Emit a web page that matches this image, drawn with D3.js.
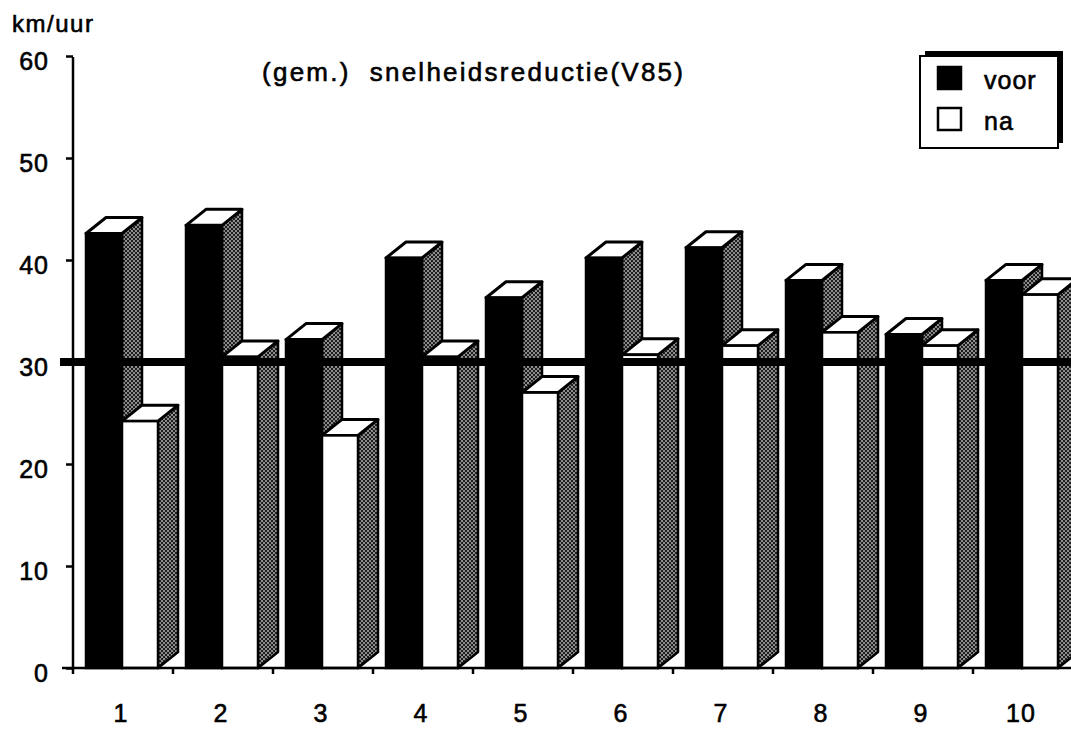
<!DOCTYPE html>
<html>
<head>
<meta charset="utf-8">
<script src="https://cdn.jsdelivr.net/npm/d3@7"></script>
<style>
  body { margin: 0; background: #fff; }
  svg text { font-family: "Liberation Sans", Arial, sans-serif; fill: #000; stroke: #000; stroke-width: 0.6px; }
</style>
</head>
<body>
<div id="chart"></div>
<script>
// data
const categories = ["1", "2", "3", "4", "5", "6", "7", "8", "9", "10"];
const series = ["voor", "na"];
const voor = [42.6, 43.4, 32.2, 40.2, 36.3, 40.2, 41.2, 38.0, 32.7, 38.0];
const na = [24.2, 30.5, 22.8, 30.5, 27.0, 30.7, 31.6, 32.9, 31.6, 36.6];
const yTicks = [0, 10, 20, 30, 40, 50, 60];
const refValue = 30;

const width = 1071, height = 729;
const depth = { dx: 20, dy: 16 };

const svg = d3.select("#chart").append("svg")
    .attr("width", width)
    .attr("height", height);

// stippled side faces
const pat = svg.append("defs").append("pattern")
    .attr("id", "stipple")
    .attr("patternUnits", "userSpaceOnUse")
    .attr("width", 4).attr("height", 4);
pat.append("rect").attr("width", 4).attr("height", 4).attr("fill", "#1e1e1e");
pat.append("rect").attr("width", 2).attr("height", 2).attr("fill", "#8c8c8c");
pat.append("rect").attr("x", 2).attr("y", 2).attr("width", 2).attr("height", 2).attr("fill", "#8c8c8c");

const x = d3.scaleBand().domain(categories).range([73, 1073]);
const xs = d3.scaleBand().domain(series).range([13, 85]);
const y = d3.scaleLinear().domain([0, 60]).range([668, 56]);

const rows = categories.map((c, i) => ({ cat: c, values: [
    { key: "voor", value: voor[i] },
    { key: "na", value: na[i] }
]}));

// bars, left to right so each white bar sits over the black bar's side
const groups = svg.append("g").selectAll("g.group")
    .data(rows)
    .join("g")
    .attr("class", "group")
    .attr("transform", d => `translate(${x(d.cat)},0)`);

const bars = groups.selectAll("g.bar")
    .data(d => d.values)
    .join("g")
    .attr("class", "bar");

const x0 = d => xs(d.key), x1 = d => xs(d.key) + xs.bandwidth();

bars.append("polygon")
    .attr("points", d => {
        const b = x1(d), t = y(d.value), z = y(0);
        return [[b, t], [b + depth.dx, t - depth.dy], [b + depth.dx, z - depth.dy], [b, z]].join(" ");
    })
    .attr("fill", "url(#stipple)")
    .attr("stroke", "#000")
    .attr("stroke-width", 2.5)
    .attr("stroke-linejoin", "round");

bars.append("polygon")
    .attr("points", d => {
        const a = x0(d), b = x1(d), t = y(d.value);
        return [[a, t], [a + depth.dx, t - depth.dy], [b + depth.dx, t - depth.dy], [b, t]].join(" ");
    })
    .attr("fill", "#fff")
    .attr("stroke", "#000")
    .attr("stroke-width", 3)
    .attr("stroke-linejoin", "round");

bars.append("rect")
    .attr("x", d => x0(d))
    .attr("y", d => y(d.value))
    .attr("width", xs.bandwidth())
    .attr("height", d => y(0) - y(d.value))
    .attr("fill", d => d.key === "voor" ? "#000" : "#fff")
    .attr("stroke", "#000")
    .attr("stroke-width", 2.5);

// 30 km/uur reference line
svg.append("line")
    .attr("x1", 60).attr("x2", width)
    .attr("y1", y(refValue)).attr("y2", y(refValue))
    .attr("stroke", "#000")
    .attr("stroke-width", 8);

// y axis
const yAxis = svg.append("g")
    .attr("transform", "translate(73,0)")
    .call(d3.axisLeft(y).tickValues(yTicks).tickSize(7).tickSizeOuter(0));
yAxis.select(".domain").remove();
yAxis.append("line")
    .attr("x1", 0).attr("x2", 0).attr("y1", y(60) + 1).attr("y2", y(0))
    .attr("stroke", "#000").attr("stroke-width", 2.5);
yAxis.selectAll(".tick line").attr("stroke", "#000").attr("stroke-width", 2.5);
yAxis.selectAll(".tick text")
    .attr("x", -24)
    .attr("dy", "0.72em")
    .attr("y", -5)
    .style("font-size", "25px")
    .style("letter-spacing", "1px")
    .style("font-family", "'Liberation Sans', Arial, sans-serif");

// x axis
svg.append("line")
    .attr("x1", 62).attr("x2", width)
    .attr("y1", y(0)).attr("y2", y(0))
    .attr("stroke", "#000").attr("stroke-width", 2.5);

svg.append("g").selectAll("line")
    .data(categories)
    .join("line")
    .attr("x1", d => x(d)).attr("x2", d => x(d))
    .attr("y1", y(0)).attr("y2", y(0) + 6)
    .attr("stroke", "#000").attr("stroke-width", 2.5);

svg.append("g").selectAll("text")
    .data(categories)
    .join("text")
    .attr("x", d => x(d) + x.bandwidth() / 2 - 2)
    .attr("y", 722)
    .attr("text-anchor", "middle")
    .style("font-size", "25px")
    .style("letter-spacing", "1px")
    .text(d => d);

// unit label and title
svg.append("text")
    .attr("x", 12).attr("y", 32)
    .attr("textLength", 81).attr("lengthAdjust", "spacing")
    .style("font-size", "24px")
    .text("km/uur");

svg.append("text")
    .attr("x", 262).attr("y", 81)
    .attr("textLength", 421).attr("lengthAdjust", "spacing")
    .style("font-size", "26px")
    .attr("xml:space", "preserve")
    .text("(gem.)  snelheidsreductie(V85)");

// legend with offset shadow
const legend = svg.append("g");
legend.append("rect")
    .attr("x", 925).attr("y", 51).attr("width", 138).attr("height", 92)
    .attr("fill", "#000");
legend.append("rect")
    .attr("x", 920).attr("y", 56).attr("width", 138).attr("height", 92)
    .attr("fill", "#fff").attr("stroke", "#000").attr("stroke-width", 2);

const legendItems = legend.selectAll("g.item")
    .data(series)
    .join("g")
    .attr("class", "item")
    .attr("transform", (d, i) => `translate(938,${67 + i * 41})`);

legendItems.append("rect")
    .attr("width", 23).attr("height", 22)
    .attr("fill", d => d === "voor" ? "#000" : "#fff")
    .attr("stroke", "#000").attr("stroke-width", 2.5);

legendItems.append("text")
    .attr("x", 46).attr("y", 22)
    .style("font-size", "25px")
    .style("letter-spacing", "1px")
    .text(d => d);
</script>
</body>
</html>
